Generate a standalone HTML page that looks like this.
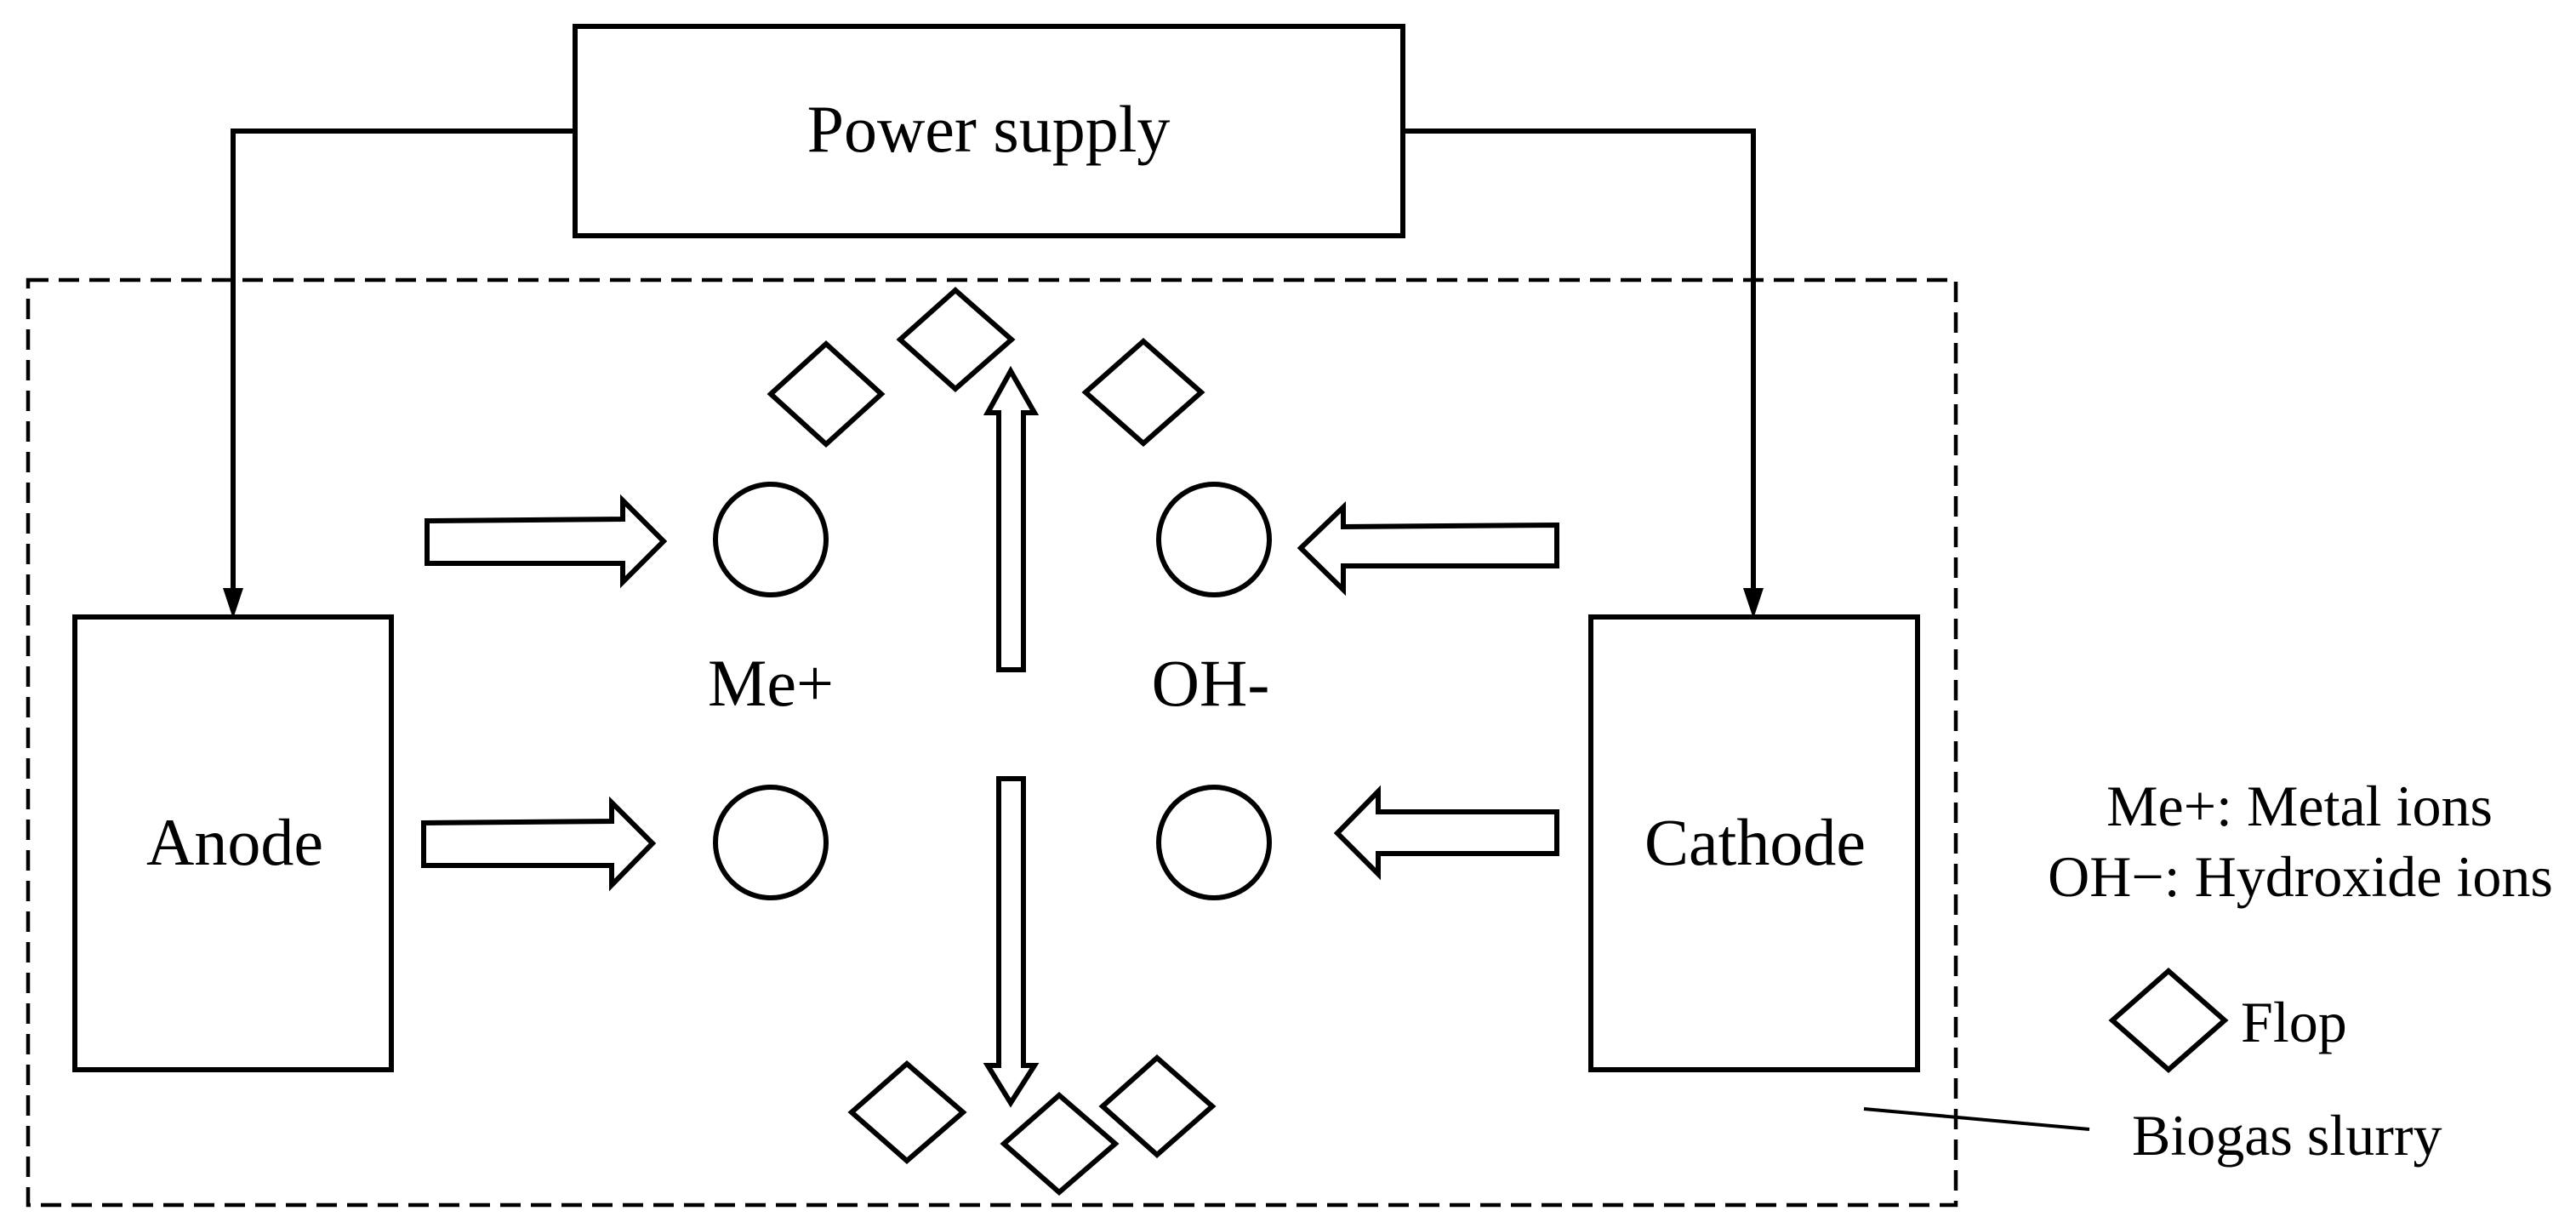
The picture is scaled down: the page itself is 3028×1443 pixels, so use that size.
<!DOCTYPE html>
<html><head><meta charset="utf-8"><style>
html,body{margin:0;padding:0;background:#fff;}
svg{display:block;}
text{font-family:"Liberation Serif",serif;font-size:78px;fill:#000;}
</style></head><body>
<svg width="3028" height="1443" viewBox="0 0 3028 1443" xmlns="http://www.w3.org/2000/svg">
<g fill="none" stroke="#000" stroke-width="6">
<rect x="676" y="31" width="973" height="246"/>
<polyline points="676,154 274,154 274,695"/>
<polyline points="1649,154 2061,154 2061,695"/>
<rect x="33" y="329" width="2266" height="1087" stroke-width="4.5" stroke-dasharray="24,12"/>
<rect x="88" y="725" width="372" height="532"/>
<rect x="1870" y="725" width="384" height="532"/>
<circle cx="906" cy="634" r="65"/>
<circle cx="906" cy="990" r="65"/>
<circle cx="1427" cy="634" r="65"/>
<circle cx="1427" cy="990" r="65"/>
<polygon points="502,612 732,610 732,588 780,636 732,684 732,662 502,662"/>
<polygon points="498,967 719,965 719,943 767,991 719,1040 719,1017 498,1017"/>
<polygon points="1830,617 1579,619 1579,596 1529,644 1579,693 1579,665 1830,665"/>
<polygon points="1830,954 1620,954 1620,930 1572,979 1620,1027 1620,1003 1830,1003"/>
<polygon points="1174,787 1174,485 1161,485 1188,436 1216,485 1203,485 1203,787"/>
<polygon points="1174,915 1174,1252 1161,1252 1188,1296 1216,1252 1203,1252 1203,915"/>
<polygon points="906,463 971,404 1036,463 971,522"/>
<polygon points="1058,399 1123,341 1189,399 1123,457"/>
<polygon points="1276,461 1344,401 1412,461 1344,521"/>
<polygon points="1001,1307 1066,1250 1132,1307 1066,1364"/>
<polygon points="1180,1344 1245,1287 1311,1344 1245,1401"/>
<polygon points="1296,1300 1360,1243 1425,1300 1360,1357"/>
<polygon points="2483,1199 2549,1141 2615,1199 2549,1257"/>
<line x1="2191" y1="1303" x2="2456" y2="1327" stroke-width="4"/>
</g>
<polygon points="262,691 286,691 274,727" fill="#000"/>
<polygon points="2049,691 2073,691 2061,727" fill="#000"/>
<text x="1162" y="178" text-anchor="middle">Power supply</text>
<text x="276" y="1016" text-anchor="middle">Anode</text>
<text x="2063" y="1016" text-anchor="middle">Cathode</text>
<text x="906" y="829" text-anchor="middle">Me+</text>
<text x="1423" y="829" text-anchor="middle">OH-</text>
<text x="2703" y="970" text-anchor="middle" style="font-size:68px">Me+: Metal ions</text>
<text x="2704" y="1053" text-anchor="middle" style="font-size:68px">OH−: Hydroxide ions</text>
<text x="2634" y="1224" style="font-size:68px">Flop</text>
<text x="2506" y="1357" style="font-size:68px">Biogas slurry</text>
</svg>
</body></html>
